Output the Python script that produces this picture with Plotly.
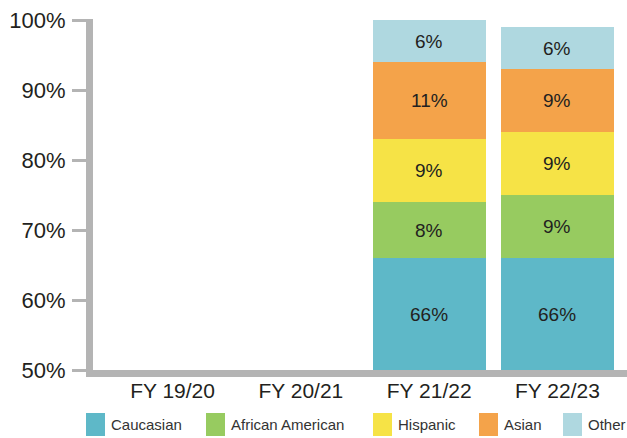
import plotly.graph_objects as go

# Fiscal years shown on the x axis
years = ["FY 19/20", "FY 20/21", "FY 21/22", "FY 22/23"]

# Share of each group per year (percent); no data for the first two years
caucasian = [None, None, 66, 66]
african_american = [None, None, 8, 9]
hispanic = [None, None, 9, 9]
asian = [None, None, 11, 9]
other = [None, None, 6, 6]

series_names = ["Caucasian", "African American", "Hispanic", "Asian", "Other"]
series_values = [caucasian, african_american, hispanic, asian, other]
series_colors = ["#5eb8c8", "#97cb60", "#f6e346", "#f4a34a", "#afd8e0"]

y_ticks = [50, 60, 70, 80, 90, 100]
y_min, y_max = 50, 100

FONT = "Liberation Sans, Arial, Helvetica, sans-serif"
AXIS_GREY = "#b4b4b4"
TEXT = "#231f20"

# Figure geometry (pixels)
W, H = 627, 438
L, R, T, B = 93, 0, 20, 68
PW, PH = W - L - R, H - T - B


def px_x(px):
    return (px - L) / PW


def px_y(py):
    return (H - B - py) / PH


fig = go.Figure()

for name, vals, col in zip(series_names, series_values, series_colors):
    fig.add_trace(go.Bar(
        x=years, y=vals, name=name, marker_color=col,
        marker_line_width=0, showlegend=False,
        hoverinfo="skip",
    ))

# Value labels, centred in the visible part of each stacked segment
annotations = []
for i, year in enumerate(years):
    base = 0
    for vals in series_values:
        v = vals[i]
        if v is None:
            continue
        lo, hi = max(base, y_min), min(base + v, y_max)
        annotations.append(dict(
            x=year, y=(lo + hi) / 2, xref="x", yref="y",
            text=f"{v}%", showarrow=False,
            font=dict(family=FONT, size=19, color=TEXT),
        ))
        base += v

# Legend drawn below the axis with large colour swatches
legend_swatch_x = [86, 206, 373, 479, 563]
shapes = []
for name, col, sx in zip(series_names, series_colors, legend_swatch_x):
    shapes.append(dict(
        type="rect", xref="paper", yref="paper",
        x0=px_x(sx), x1=px_x(sx + 19), y0=px_y(413), y1=px_y(436),
        fillcolor=col, line_width=0,
    ))
    annotations.append(dict(
        xref="paper", yref="paper", x=px_x(sx + 23), y=px_y(425),
        xanchor="left", yanchor="middle", text=name, showarrow=False,
        font=dict(family=FONT, size=15, color="#333333"),
    ))

# Thick grey axis bars
shapes.append(dict(
    type="rect", xref="paper", yref="paper",
    x0=px_x(86), x1=px_x(93), y0=px_y(377), y1=px_y(19),
    fillcolor=AXIS_GREY, line_width=0, layer="above",
))
shapes.append(dict(
    type="rect", xref="paper", yref="paper",
    x0=px_x(86), x1=1, y0=px_y(377), y1=px_y(370),
    fillcolor=AXIS_GREY, line_width=0, layer="above",
))

fig.update_layout(
    width=W, height=H,
    margin=dict(l=L, r=R, t=T, b=B, pad=0),
    barmode="stack",
    bargap=0.12,
    plot_bgcolor="white",
    paper_bgcolor="white",
    font=dict(family=FONT, color=TEXT),
    shapes=shapes,
    annotations=annotations,
    xaxis=dict(
        range=[-0.62, 3.542],
        showline=False, showgrid=False, zeroline=False,
        ticks="", tickfont=dict(size=21, color=TEXT),
        ticklabelstandoff=6,
        fixedrange=True,
    ),
    yaxis=dict(
        range=[y_min, y_max],
        tickvals=y_ticks,
        ticktext=[f"{v}%" for v in y_ticks],
        showline=False, showgrid=False, zeroline=False,
        ticks="outside", ticklen=20, tickwidth=2.5, tickcolor=AXIS_GREY,
        tickfont=dict(size=22, color=TEXT),
        ticklabelstandoff=2,
        fixedrange=True,
    ),
)

fig.write_html("out.html")
